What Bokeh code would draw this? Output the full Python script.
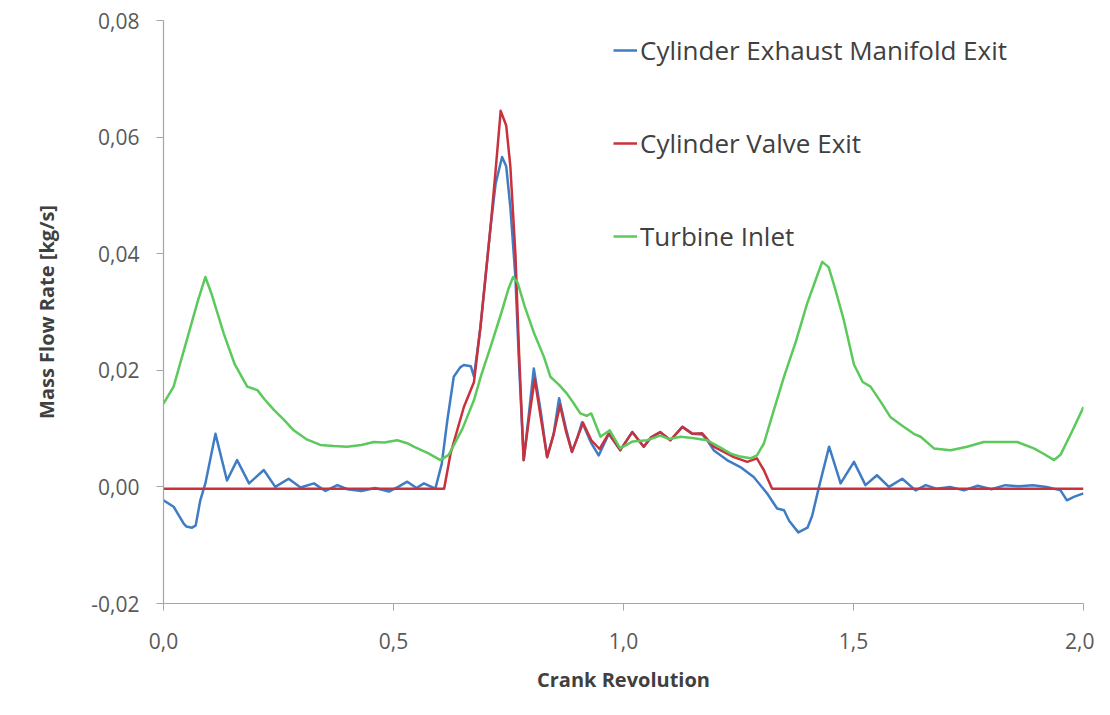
from bokeh.plotting import figure
from bokeh.models import Range1d, FixedTicker, CustomJSTickFormatter, Legend, LegendItem
from bokeh.embed import file_html
from bokeh.resources import INLINE

# ---- data ----
x_ticks = [0.0, 0.5, 1.0, 1.5, 2.0]
y_ticks = [-0.02, 0.0, 0.02, 0.04, 0.06, 0.08]

series_names = ["Cylinder Exhaust Manifold Exit", "Cylinder Valve Exit", "Turbine Inlet"]

exhaust_x = [0.0, 0.022, 0.044, 0.05, 0.062, 0.07, 0.08, 0.091, 0.113, 0.138, 0.16, 0.186,
             0.218, 0.243, 0.272, 0.298, 0.327, 0.352, 0.378, 0.40, 0.43, 0.46, 0.49, 0.51,
             0.53, 0.55, 0.566, 0.591, 0.605, 0.617, 0.631, 0.645, 0.653, 0.668, 0.675,
             0.689, 0.70, 0.711, 0.722, 0.736, 0.745, 0.754, 0.765, 0.773, 0.783, 0.795,
             0.805, 0.82, 0.834, 0.848, 0.86, 0.875, 0.888, 0.90, 0.91, 0.93, 0.946, 0.968,
             0.993, 1.019, 1.044, 1.06, 1.08, 1.102, 1.128, 1.15, 1.171, 1.182, 1.196, 1.225,
             1.254, 1.283, 1.312, 1.334, 1.349, 1.36, 1.38, 1.40, 1.41, 1.425, 1.447, 1.472,
             1.501, 1.526, 1.551, 1.577, 1.606, 1.635, 1.657, 1.68, 1.71, 1.74, 1.77, 1.80,
             1.83, 1.86, 1.89, 1.92, 1.95, 1.964, 1.979, 2.0]
exhaust_y = [-0.0023, -0.0034, -0.0063, -0.0068, -0.0070, -0.0066, -0.0023, 0.0006, 0.0091,
             0.0011, 0.0046, 0.0006, 0.0029, 0.0000, 0.0014, -0.0001, 0.0006, -0.0007, 0.0003,
             -0.0004, -0.0007, -0.0002, -0.0008, 0.0000, 0.0009, -0.0002, 0.0006, -0.0003,
             0.0040, 0.0114, 0.0189, 0.0205, 0.0209, 0.0207, 0.0189, 0.0274, 0.0360, 0.0446,
             0.0520, 0.0566, 0.0550, 0.0480, 0.0360, 0.0210, 0.0046, 0.0130, 0.0203, 0.0130,
             0.0051, 0.0090, 0.0152, 0.0100, 0.0060, 0.0085, 0.0111, 0.0075, 0.0054, 0.0091,
             0.0063, 0.0094, 0.0069, 0.0085, 0.0094, 0.0080, 0.0103, 0.0091, 0.0090, 0.0080,
             0.0063, 0.0046, 0.0034, 0.0017, -0.0011, -0.0037, -0.0040, -0.0058, -0.0078,
             -0.0070, -0.0050, 0.0000, 0.0069, 0.0006, 0.0043, 0.0003, 0.0020, 0.0000, 0.0014,
             -0.0006, 0.0003, -0.0003, 0.0000, -0.0006, 0.0002, -0.0004, 0.0003, 0.0001,
             0.0003, 0.0000, -0.0006, -0.0023, -0.0017, -0.0011]

valve_x = [0.0, 0.61, 0.624, 0.653, 0.675, 0.689, 0.70, 0.711, 0.722, 0.733, 0.745, 0.754,
           0.765, 0.773, 0.783, 0.795, 0.807, 0.82, 0.834, 0.848, 0.862, 0.875, 0.888, 0.90,
           0.912, 0.93, 0.948, 0.968, 0.993, 1.019, 1.044, 1.06, 1.08, 1.102, 1.128, 1.15,
           1.171, 1.182, 1.196, 1.218, 1.24, 1.269, 1.29, 1.305, 1.323, 2.0]
valve_y = [-0.0003, -0.0003, 0.0057, 0.0137, 0.0180, 0.0274, 0.0360, 0.0446, 0.0543, 0.0645,
           0.0620, 0.0550, 0.0400, 0.0229, 0.0046, 0.0120, 0.0185, 0.0120, 0.0051, 0.0090,
           0.0140, 0.0095, 0.0060, 0.0085, 0.0110, 0.0080, 0.0065, 0.0092, 0.0063, 0.0094,
           0.0069, 0.0085, 0.0094, 0.0080, 0.0103, 0.0091, 0.0092, 0.0082, 0.0069, 0.0060,
           0.0051, 0.0043, 0.0049, 0.0029, -0.0003, -0.0003]

turbine_x = [0.0, 0.022, 0.05, 0.075, 0.091, 0.105, 0.131, 0.155, 0.182, 0.204, 0.22, 0.24,
             0.262, 0.283, 0.31, 0.341, 0.37, 0.399, 0.43, 0.457, 0.48, 0.508, 0.53, 0.544,
             0.575, 0.602, 0.62, 0.65, 0.675, 0.69, 0.711, 0.735, 0.75, 0.76, 0.77, 0.785,
             0.805, 0.827, 0.841, 0.86, 0.877, 0.892, 0.906, 0.92, 0.93, 0.95, 0.97, 0.993,
             1.02, 1.051, 1.08, 1.10, 1.124, 1.15, 1.182, 1.21, 1.233, 1.254, 1.276, 1.29,
             1.305, 1.327, 1.349, 1.375, 1.399, 1.42, 1.432, 1.446, 1.46, 1.479, 1.501, 1.52,
             1.537, 1.56, 1.58, 1.606, 1.631, 1.646, 1.675, 1.711, 1.747, 1.783, 1.82, 1.856,
             1.892, 1.915, 1.936, 1.95, 1.975, 2.0]
turbine_y = [0.0143, 0.0172, 0.0250, 0.0320, 0.0360, 0.0330, 0.0263, 0.0210, 0.0172, 0.0166,
             0.0150, 0.0132, 0.0115, 0.0097, 0.0082, 0.0072, 0.0070, 0.0069, 0.0072, 0.0077,
             0.0076, 0.0080, 0.0075, 0.0069, 0.0058, 0.0046, 0.0055, 0.0100, 0.0149, 0.0190,
             0.0240, 0.0300, 0.0340, 0.0360, 0.0350, 0.0310, 0.0265, 0.0223, 0.0189, 0.0175,
             0.0160, 0.0143, 0.0126, 0.0122, 0.0126, 0.0086, 0.0097, 0.0066, 0.0078, 0.0080,
             0.0088, 0.0082, 0.0086, 0.0084, 0.0080, 0.0068, 0.0057, 0.0052, 0.0049, 0.0054,
             0.0074, 0.0132, 0.0189, 0.0250, 0.0314, 0.0360, 0.0386, 0.0377, 0.0340, 0.0286,
             0.0210, 0.0180, 0.0172, 0.0145, 0.0120, 0.0105, 0.0091, 0.0086, 0.0066, 0.0063,
             0.0069, 0.0077, 0.0077, 0.0077, 0.0066, 0.0056, 0.0046, 0.0055, 0.0095, 0.0137]

colors = ["#3f7cc4", "#c8323c", "#5cc95c"]

FONT = "Open Sans"
W, H = 1094, 699

p = figure(width=W, height=H, output_backend="svg", toolbar_location=None,
           x_range=Range1d(0, 2), y_range=Range1d(-0.02, 0.08),
           min_border_left=163, min_border_right=11, min_border_top=20, min_border_bottom=96)
p.outline_line_color = None
p.xgrid.visible = False
p.ygrid.visible = False
p.background_fill_color = "white"
p.border_fill_color = "white"

renderers = []
for xs, ys, c in zip([exhaust_x, valve_x, turbine_x], [exhaust_y, valve_y, turbine_y], colors):
    r = p.line(xs, ys, line_color=c, line_width=2.5, line_join="round")
    renderers.append(r)

for ax in (p.xaxis[0], p.yaxis[0]):
    ax.axis_line_color = "#a6a6a6"
    ax.axis_line_width = 1.2
    ax.major_tick_line_color = "#a6a6a6"
    ax.minor_tick_line_color = None
    ax.major_tick_in = 0
    ax.major_label_text_font = FONT
    ax.major_label_text_font_size = "21px"
    ax.major_label_text_color = "#595959"
    ax.axis_label_text_font = FONT
    ax.axis_label_text_font_style = "bold"
    ax.axis_label_text_font_size = "20px"
    ax.axis_label_text_color = "#404040"

p.xaxis.ticker = FixedTicker(ticks=x_ticks)
p.yaxis.ticker = FixedTicker(ticks=y_ticks)
p.xaxis.formatter = CustomJSTickFormatter(code="return tick.toFixed(1).replace('.', ',');")
p.yaxis.formatter = CustomJSTickFormatter(code="return tick.toFixed(2).replace('.', ',');")
p.xaxis.major_tick_out = 7
p.yaxis.major_tick_out = 7
p.xaxis.major_label_standoff = 22
p.yaxis.major_label_standoff = 17
p.xaxis.axis_label = "Crank Revolution"
p.yaxis.axis_label = "Mass Flow Rate [kg/s]"
p.xaxis.axis_label_standoff = 14
p.yaxis.axis_label_standoff = 28

legend = Legend(items=[LegendItem(label=n, renderers=[r]) for n, r in zip(series_names, renderers)],
                location=(450, 348))
legend.label_text_font = FONT
legend.label_text_font_size = "26px"
legend.label_text_color = "#404040"
legend.glyph_width = 24
legend.glyph_height = 38
legend.label_height = 38
legend.label_standoff = 3
legend.spacing = 55
legend.padding = 0
legend.margin = 0
legend.border_line_color = None
legend.background_fill_alpha = 0
p.add_layout(legend, "center")

open("out.html", "w").write(file_html(p, INLINE))
